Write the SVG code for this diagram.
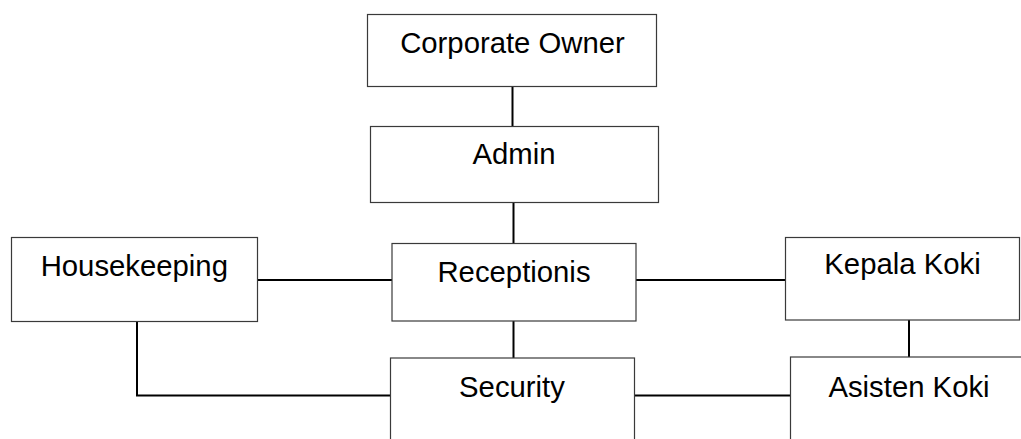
<svg xmlns="http://www.w3.org/2000/svg" width="1021" height="439" viewBox="0 0 1021 439">
<style>
.box{fill:#fff;stroke:#3a3a3a;stroke-width:1.2}
.lbl{font-family:"Liberation Sans",Arial,sans-serif;font-size:29.3px;fill:#000;text-anchor:middle}
.con{stroke:#000;stroke-width:2;fill:none}
</style>
<rect width="1021" height="439" fill="#fff"/>
<g id="connectors">
<line class="con" x1="512.5" y1="86" x2="512.5" y2="126"/>
<line class="con" x1="513.5" y1="202" x2="513.5" y2="243"/>
<line class="con" x1="513.5" y1="321" x2="513.5" y2="358"/>
<line class="con" x1="257" y1="280" x2="392" y2="280"/>
<line class="con" x1="636" y1="280" x2="785" y2="280"/>
<polyline class="con" points="137,322 137,395.5 390,395.5"/>
<line class="con" x1="634" y1="395.5" x2="790" y2="395.5"/>
<line class="con" x1="909" y1="320" x2="909" y2="357"/>
</g>
<g id="corporate-owner">
<rect class="box" x="367.5" y="14.5" width="289" height="72"/>
<text class="lbl" x="512.5" y="52.5">Corporate Owner</text>
</g>
<g id="admin">
<rect class="box" x="370.5" y="126.5" width="288" height="76"/>
<text class="lbl" x="514" y="163.5">Admin</text>
</g>
<g id="receptionis">
<rect class="box" x="392" y="243.5" width="244" height="77.5"/>
<text class="lbl" x="514" y="281.5">Receptionis</text>
</g>
<g id="housekeeping">
<rect class="box" x="11.5" y="237.5" width="246" height="84"/>
<text class="lbl" x="134.3" y="275.5">Housekeeping</text>
</g>
<g id="kepala-koki">
<rect class="box" x="785.5" y="237.5" width="234" height="82.5"/>
<text class="lbl" x="902.5" y="273.8">Kepala Koki</text>
</g>
<g id="security">
<rect class="box" x="390.5" y="358" width="244" height="90"/>
<text class="lbl" x="512" y="397.2">Security</text>
</g>
<g id="asisten-koki">
<rect class="box" x="790.5" y="357" width="238" height="90"/>
<text class="lbl" x="909" y="397.2">Asisten Koki</text>
</g>
</svg>
